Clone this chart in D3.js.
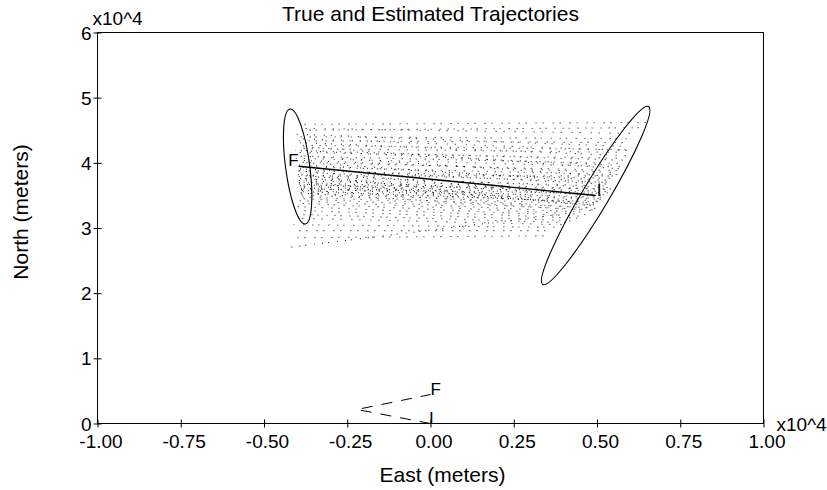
<!DOCTYPE html>
<html>
<head>
  <title>True and Estimated Trajectories</title>
  <script src="https://d3js.org/d3.v7.min.js"></script>
  <style>
    body { margin: 0; background: #fff; }
    text { font-family: "Liberation Sans", Arial, Helvetica, sans-serif; fill: #000; }
  </style>
</head>
<body>
  <svg id="chart" width="827" height="490"></svg>

  <script>
    // Tick values (axes are in units of 10^4 meters)
    var xTicks = [-1, -0.75, -0.5, -0.25, 0, 0.25, 0.5, 0.75, 1];
    var yTicks = [0, 1, 2, 3, 4, 5, 6];

    // True trajectory: initial -> turn -> final
    var trueEast = [0, -0.221, 0];
    var trueNorth = [0, 0.215, 0.445];

    // Estimated trajectory: initial -> final
    var estEast = [0.496, -0.396];
    var estNorth = [3.499, 3.948];

    // Labels at trajectory ends
    var endLabels = ["I", "F"];

    // Error ellipses (final, initial): center, major half axis, minor half axis
    var ellipseCenter = [[-0.399, 3.944], [0.496, 3.499]];
    var ellipseMajor = [[-0.023, 0.882], [0.159, 1.366]];
    var ellipseMinor = [[0.036, 0.025], [0.035, -0.104]];

    // Particle tracks: [east initial, north initial, east final, north final]
    var tracks = [
      [0.646, 4.62, -0.390, 4.59], [0.631, 4.54, -0.396, 4.50],
      [0.619, 4.45, -0.402, 4.53], [0.610, 4.37, -0.393, 4.40],
      [0.601, 4.31, -0.399, 4.34], [0.595, 4.25, -0.405, 4.44],
      [0.604, 4.20, -0.390, 4.27], [0.586, 4.16, -0.402, 4.22],
      [0.592, 4.11, -0.396, 4.31], [0.577, 4.07, -0.408, 4.16],
      [0.583, 4.04, -0.393, 4.19], [0.571, 3.99, -0.399, 4.10],
      [0.574, 3.94, -0.405, 4.07], [0.565, 3.91, -0.390, 4.25],
      [0.568, 3.88, -0.402, 4.01], [0.559, 3.85, -0.396, 4.04],
      [0.562, 3.82, -0.408, 3.94], [0.553, 3.79, -0.393, 4.11],
      [0.556, 3.76, -0.399, 3.88], [0.547, 3.73, -0.405, 3.97],
      [0.550, 3.70, -0.390, 3.85], [0.541, 3.67, -0.402, 3.91],
      [0.544, 3.64, -0.396, 3.79], [0.535, 3.62, -0.408, 3.82],
      [0.538, 3.59, -0.393, 3.76], [0.529, 3.56, -0.399, 3.73],
      [0.532, 3.54, -0.405, 3.70], [0.523, 3.51, -0.390, 3.67],
      [0.526, 3.50, -0.402, 3.76], [0.517, 3.47, -0.396, 3.64],
      [0.520, 3.45, -0.408, 3.68], [0.511, 3.44, -0.393, 3.61],
      [0.514, 3.41, -0.399, 3.65], [0.505, 3.39, -0.405, 3.58],
      [0.508, 3.38, -0.390, 3.62], [0.498, 3.36, -0.402, 3.54],
      [0.502, 3.35, -0.396, 3.71], [0.492, 3.31, -0.408, 3.51],
      [0.495, 3.30, -0.393, 3.59], [0.486, 3.28, -0.399, 3.48],
      [0.480, 3.27, -0.405, 3.54], [0.474, 3.24, -0.390, 3.45],
      [0.465, 3.21, -0.402, 3.42], [0.456, 3.18, -0.396, 3.38],
      [0.444, 3.15, -0.408, 3.33], [0.432, 3.11, -0.393, 3.27],
      [0.420, 3.08, -0.399, 3.21], [0.405, 3.05, -0.405, 3.15],
      [0.384, 3.01, -0.411, 3.05], [0.360, 2.96, -0.420, 2.96],
      [0.354, 2.88, -0.423, 2.85], [0.390, 3.21, -0.429, 2.70],
      [0.589, 4.19, -0.399, 4.37], [0.568, 3.96, -0.405, 4.19],
      [0.544, 3.69, -0.393, 4.01], [0.520, 3.48, -0.402, 3.88],
      [0.502, 3.33, -0.396, 3.82], [0.529, 3.53, -0.405, 3.60],
      [0.511, 3.40, -0.399, 3.56], [0.541, 3.60, -0.396, 3.66],
      [0.556, 3.80, -0.402, 3.80]
    ];

    // Uneven dot spacings, so the tracks read as a speckled cloud
    var dotPatterns = ["1 6 1 9", "1 8 1 5 1 7", "1 7 1 10", "1 5 1 8 1 9", "1 9 1 6"];

    // Chart dimensions
    var margin = { top: 32, right: 64, bottom: 67, left: 97 };
    var width = 827 - margin.left - margin.right;
    var height = 490 - margin.top - margin.bottom;

    var svg = d3.select("#chart")
      .append("g")
      .attr("transform", "translate(" + (margin.left + 0.5) + "," + (margin.top + 0.5) + ")");

    // Scales
    var x = d3.scaleLinear().domain([-1, 1]).range([0, width]);
    var y = d3.scaleLinear().domain([0, 6]).range([height, 0]);

    // Particle cloud, drawn as dotted tracks
    var line = d3.line()
      .x(function(d) { return x(d[0]); })
      .y(function(d) { return y(d[1]); });

    svg.append("g")
      .selectAll("path")
      .data(tracks)
      .enter()
      .append("path")
      .attr("d", function(d) { return line([[d[0], d[1]], [d[2], d[3]]]); })
      .attr("fill", "none")
      .attr("stroke", "#000")
      .attr("stroke-opacity", 0.85)
      .attr("stroke-width", 1.1)
      .attr("stroke-dasharray", function(d, i) { return dotPatterns[i % dotPatterns.length]; })
      .attr("stroke-dashoffset", function(d, i) { return (i * 7) % 13; });

    // Error ellipses: unit circle mapped through the scaled half axes
    svg.append("g")
      .selectAll("circle")
      .data(ellipseCenter)
      .enter()
      .append("circle")
      .attr("r", 1)
      .attr("transform", function(c, i) {
        var M = ellipseMajor[i], N = ellipseMinor[i];
        var cx = x(c[0]), cy = y(c[1]);
        return "matrix(" + [
          x(c[0] + M[0]) - cx, y(c[1] + M[1]) - cy,
          x(c[0] + N[0]) - cx, y(c[1] + N[1]) - cy,
          cx, cy].join(",") + ")";
      })
      .attr("vector-effect", "non-scaling-stroke")
      .attr("fill", "none")
      .attr("stroke", "#000")
      .attr("stroke-width", 1.1);

    // Estimated trajectory (solid)
    svg.append("path")
      .attr("d", line(estEast.map(function(e, i) { return [e, estNorth[i]]; })))
      .attr("fill", "none")
      .attr("stroke", "#000")
      .attr("stroke-width", 1.4);

    // True trajectory (dashed)
    svg.append("path")
      .attr("d", line(trueEast.map(function(e, i) { return [e, trueNorth[i]]; })))
      .attr("fill", "none")
      .attr("stroke", "#000")
      .attr("stroke-width", 1)
      .attr("stroke-dasharray", "11 9");

    // End labels
    var labelSize = "17px";
    svg.append("text")
      .attr("x", x(estEast[0]) + 1).attr("y", y(estNorth[0]) + 0.5)
      .attr("font-size", labelSize).text(endLabels[0]);
    svg.append("text")
      .attr("x", x(estEast[1])).attr("y", y(estNorth[1]))
      .attr("text-anchor", "end")
      .attr("font-size", labelSize).text(endLabels[1]);
    svg.append("text")
      .attr("x", x(trueEast[0]) - 1.5).attr("y", y(trueNorth[0]))
      .attr("font-size", labelSize).text(endLabels[0]);
    svg.append("text")
      .attr("x", x(trueEast[2])).attr("y", y(trueNorth[2]))
      .attr("font-size", labelSize).text(endLabels[1]);

    // Frame
    svg.append("rect")
      .attr("width", width)
      .attr("height", height)
      .attr("fill", "none")
      .attr("stroke", "#000");

    // x-axis
    var xAxis = svg.append("g")
      .attr("transform", "translate(0," + height + ")")
      .call(d3.axisBottom(x).tickValues(xTicks).tickSize(4)
        .tickFormat(function(d) { return d.toFixed(2); }));
    xAxis.select(".domain").remove();
    xAxis.selectAll(".tick line").attr("y1", -4).attr("stroke", "#000");
    xAxis.selectAll(".tick text")
      .attr("y", 24).attr("dy", 0).attr("dx", 3)
      .attr("font-size", "19px").attr("font-family", null).attr("fill", "#000");

    // y-axis
    var yAxis = svg.append("g")
      .call(d3.axisLeft(y).tickValues(yTicks).tickSize(4)
        .tickFormat(function(d) { return String(d); }));
    yAxis.select(".domain").remove();
    yAxis.selectAll(".tick line").attr("x1", 4).attr("stroke", "#000");
    yAxis.selectAll(".tick text")
      .attr("x", -6).attr("dy", "0.35em")
      .attr("font-size", "19px").attr("font-family", null).attr("fill", "#000");

    // Exponent labels
    svg.append("text")
      .attr("x", -5).attr("y", -8)
      .attr("font-size", "19px")
      .text("x10^4");
    svg.append("text")
      .attr("x", width + 13).attr("y", height + 7)
      .attr("font-size", "19px")
      .text("x10^4");

    // Title and axis labels
    svg.append("text")
      .attr("x", width / 2).attr("y", -12)
      .attr("text-anchor", "middle")
      .attr("font-size", "21px")
      .text("True and Estimated Trajectories");

    svg.append("text")
      .attr("x", width / 2 + 12).attr("y", height + 58)
      .attr("text-anchor", "middle")
      .attr("font-size", "21px")
      .text("East (meters)");

    svg.append("text")
      .attr("transform", "translate(-70," + (height / 2 - 16) + ") rotate(-90)")
      .attr("text-anchor", "middle")
      .attr("font-size", "21px")
      .text("North (meters)");
  </script>
</body>
</html>
